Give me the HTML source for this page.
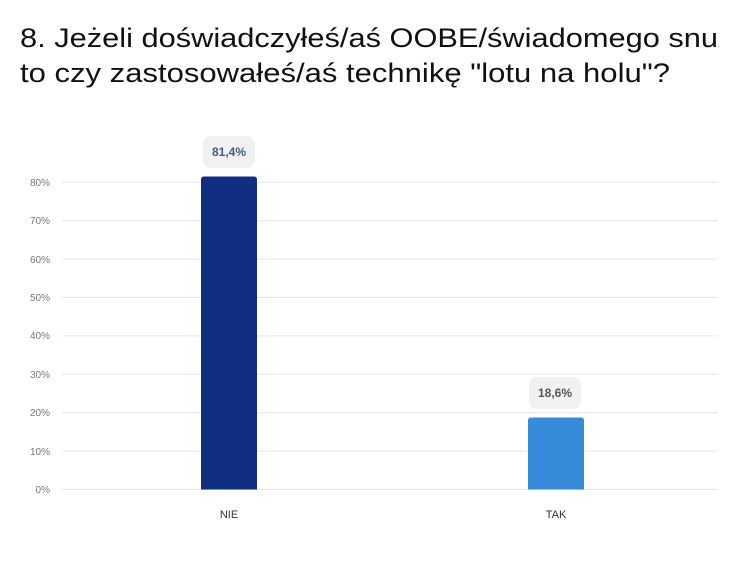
<!DOCTYPE html><html><head><style>body{margin:0;background:#fff;width:742px;height:567px;overflow:hidden;font-family:"Liberation Sans",sans-serif}</style></head><body>
<svg width="742" height="567" xmlns="http://www.w3.org/2000/svg" font-family="Liberation Sans, sans-serif">
<text x="20" y="47" font-size="27" fill="#111" textLength="698" lengthAdjust="spacingAndGlyphs">8. Jeżeli doświadczyłeś/aś OOBE/świadomego snu</text>
<text x="20" y="82" font-size="27" fill="#111" textLength="650" lengthAdjust="spacingAndGlyphs">to czy zastosowałeś/aś technikę "lotu na holu"?</text>
<g stroke="#e6e6e6" stroke-width="1">
<line x1="62" x2="718" y1="489.5" y2="489.5"/><line x1="62" x2="718" y1="451.1" y2="451.1"/><line x1="62" x2="718" y1="412.7" y2="412.7"/><line x1="62" x2="718" y1="374.3" y2="374.3"/><line x1="62" x2="718" y1="335.9" y2="335.9"/><line x1="62" x2="718" y1="297.5" y2="297.5"/><line x1="62" x2="718" y1="259.1" y2="259.1"/><line x1="62" x2="718" y1="220.7" y2="220.7"/><line x1="62" x2="718" y1="182.3" y2="182.3"/>
</g>
<g font-size="10" fill="#777" text-anchor="end">
<text x="50" y="493">0%</text><text x="50" y="455">10%</text><text x="50" y="416">20%</text><text x="50" y="378">30%</text><text x="50" y="339">40%</text><text x="50" y="301">50%</text><text x="50" y="263">60%</text><text x="50" y="224">70%</text><text x="50" y="186">80%</text>
</g>
<path d="M201,489.5 V179.5 Q201,176.5 204,176.5 H254 Q257,176.5 257,179.5 V489.5Z" fill="#112f80"/>
<path d="M528,489.5 V420.5 Q528,417.5 531,417.5 H581 Q584,417.5 584,420.5 V489.5Z" fill="#388bd9"/>
<rect x="203" y="136" width="52" height="32" rx="8" fill="#f0f1f2"/>
<text x="229" y="156" font-size="12" font-weight="bold" fill="#4a5a78" text-anchor="middle">81,4%</text>
<rect x="529" y="377" width="52" height="32" rx="8" fill="#f0f1f2"/>
<text x="555" y="397" font-size="12" font-weight="bold" fill="#555" text-anchor="middle">18,6%</text>
<text x="229" y="518" font-size="11" fill="#333" text-anchor="middle">NIE</text>
<text x="556" y="518" font-size="11" fill="#333" text-anchor="middle">TAK</text>
</svg></body></html>
